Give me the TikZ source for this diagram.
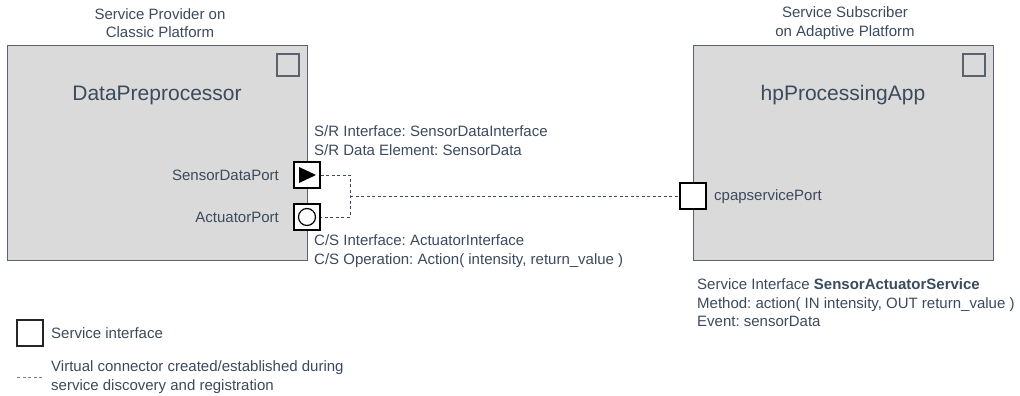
\documentclass[tikz,border=0pt]{standalone}
\usepackage{fontspec}
\setmainfont{Liberation Sans}
\usepackage{xcolor}
\usepackage{tikz}
\usetikzlibrary{positioning, calc}
\definecolor{slate}{HTML}{3B4A5C}
\definecolor{boxgray}{HTML}{DADADA}
\definecolor{boxline}{HTML}{5A6270}
\frenchspacing

\tikzset{
  comp/.style={draw=boxline, fill=boxgray, line width=1pt, minimum width=300pt, minimum height=214pt, inner sep=0pt},
  marker/.style={draw=boxline, line width=1.4pt, minimum size=22pt, inner sep=0pt},
  portbox/.style={draw=black, fill=white, line width=1.2pt, minimum size=26pt, inner sep=0pt},
  lbl/.style={text=slate, font=\fontsize{15}{18.5}\selectfont, inner sep=0pt},
  ttl/.style={text=slate, font=\fontsize{21}{25}\selectfont, inner sep=0pt},
  vconn/.style={draw=slate, line width=0.9pt, dash pattern=on 3pt off 2.5pt}
}

\begin{document}
\begin{tikzpicture}[x=1pt, y=-1pt]
  \useasboundingbox (0,0) rectangle (1020,396);

  % Service provider (classic platform)
  \node[comp] (dpbox) at (157,153) {};
  \node[ttl] (dpname) at (157,95) {DataPreprocessor};
  \node[marker] (dpmark) at (288,65) {};
  \node[lbl, align=center] (provider) at (160,23) {Service Provider on\\Classic Platform};

  % Ports
  \node[portbox] (sdport) at (307,175) {};
  \fill ($(sdport.center)+(-8,-8)$) -- ($(sdport.center)+(9,0)$) -- ($(sdport.center)+(-8,8)$) -- cycle;
  \node[portbox] (actport) at (307,217) {};
  \draw[line width=1.2pt] (actport.center) circle (8.5pt);
  \node[lbl, anchor=east] (sdlabel) at (279,175) {SensorDataPort};
  \node[lbl, anchor=east] (actlabel) at (279,217) {ActuatorPort};

  \node[lbl, align=left, anchor=west] (srtext) at (314,140.5) {S/R Interface: SensorDataInterface\\S/R Data Element: SensorData};
  \node[lbl, align=left, anchor=west] (cstext) at (314,251) {C/S Interface: ActuatorInterface\\C/S Operation: Action( intensity, return\_value )};

  % Service subscriber (adaptive platform)
  \node[comp] (hpbox) at (843,153) {};
  \node[ttl] (hpname) at (843,95) {hpProcessingApp};
  \node[marker] (hpmark) at (974,65) {};
  \node[lbl, align=center] (subscriber) at (845,23) {Service Subscriber\\on Adaptive Platform};

  \node[portbox] (cpport) at (693,196) {};
  \node[lbl, anchor=west] (cplabel) at (714,197) {cpapservicePort};

  \node[lbl, align=left, anchor=west] (svctext) at (697,303) {Service Interface \textbf{SensorActuatorService}\\Method: action( IN intensity, OUT return\_value )\\Event: sensorData};

  % Virtual connector
  \coordinate (join) at (350,196);
  \draw[vconn] (sdport.east) -| (join) |- (actport.east);
  \draw[vconn] (join) -- (cpport.west);

  % Legend
  \node[portbox, draw=black!85] (legbox) at (30,333) {};
  \node[lbl, anchor=west] (legboxtext) at (51,333) {Service interface};
  \coordinate (legA) at (17,377);
  \coordinate (legB) at (44,377);
  \draw[vconn, draw=slate!70] (legA) -- (legB);
  \node[lbl, align=left, anchor=west] (legdashtext) at (51,377) {Virtual connector created/established during\\service discovery and registration};
\end{tikzpicture}
\end{document}
